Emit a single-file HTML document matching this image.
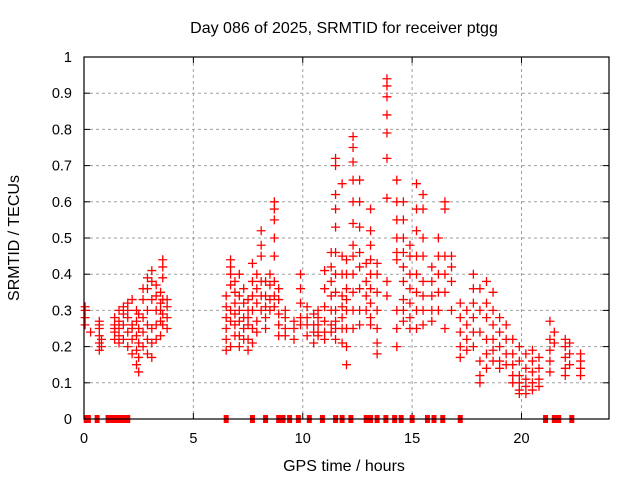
<!DOCTYPE html>
<html><head><meta charset="utf-8"><style>
body{margin:0;background:#fff}
svg{display:block;font-family:"Liberation Sans",sans-serif}
</style></head><body>
<svg id="chart" width="640" height="480">
<text x="344" y="33" text-anchor="middle" font-size="16">Day 086 of 2025, SRMTID for receiver ptgg</text>
<text x="344" y="471" text-anchor="middle" font-size="16">GPS time / hours</text>
<text transform="translate(19,238) rotate(-90)" text-anchor="middle" font-size="16">SRMTID / TECUs</text>
<g id="grid"></g>
<g id="ticks"></g>
<g id="marks"></g>
<rect x="84" y="57" width="525" height="362" fill="none" stroke="#000" stroke-width="1.2"/>
</svg>
<script>
const xTicks=[0,5,10,15,20];
const yTicks=[0,0.1,0.2,0.3,0.4,0.5,0.6,0.7,0.8,0.9,1];
const yTickLabels=["0","0.1","0.2","0.3","0.4","0.5","0.6","0.7","0.8","0.9","1"];
const colTimes=[0.05,0.3,0.7,0.8,1.4,1.6,1.8,2.0,2.2,2.4,2.5,2.7,2.9,3.1,3.3,3.5,3.6,3.8,
6.5,6.7,6.9,7.1,7.3,7.5,7.7,7.9,8.1,8.3,8.5,8.7,8.9,9.2,9.6,9.9,10.2,10.5,
10.7,11.0,11.3,11.5,11.8,12.0,12.3,12.6,12.9,13.1,13.4,13.85,14.3,14.6,14.9,15.2,15.5,15.9,16.2,16.5,16.8,17.2,17.5,17.8,18.1,18.4,18.7,19.0,19.3,19.6,19.9,20.2,20.5,20.8,21.3,21.5,22.0,22.2,22.7];
const colValues=[
[0.31,0.30,0.28,0.26],[0.24],[0.27,0.25,0.23,0.21,0.19,0.26],[0.22,0.20],
[0.22,0.24,0.26,0.28,0.25],[0.21,0.23,0.25,0.27,0.30],[0.22,0.26,0.29,0.31],[0.20,0.24,0.28,0.32,0.30],
[0.18,0.22,0.26,0.33,0.25],[0.15,0.19,0.23,0.27,0.30],[0.13,0.17,0.21,0.25,0.29],[0.20,0.24,0.28,0.33,0.36],
[0.18,0.22,0.26,0.30,0.36,0.39],[0.17,0.21,0.25,0.33,0.38,0.41],[0.22,0.26,0.30,0.34,0.37],[0.23,0.27,0.30,0.32,0.35],
[0.26,0.29,0.33,0.39,0.42,0.44],[0.25,0.28,0.31,0.33],
[0.34,0.31,0.28,0.25,0.22,0.19],[0.44,0.42,0.40,0.37,0.30,0.27,0.20],[0.38,0.35,0.32,0.29,0.26,0.23],
[0.40,0.34,0.30,0.27,0.23,0.20],[0.36,0.32,0.28,0.25,0.22],[0.33,0.30,0.28,0.26,0.22,0.19],
[0.43,0.38,0.34,0.30,0.25,0.21],[0.40,0.36,0.32,0.27,0.24],[0.52,0.48,0.45,0.38,0.34,0.30],
[0.38,0.34,0.31,0.28,0.25],[0.40,0.37,0.33,0.30],[0.60,0.58,0.55,0.50,0.45,0.38,0.34,0.31],
[0.36,0.33,0.29,0.26,0.23],[0.30,0.28,0.25,0.23],[0.27,0.25,0.22],[0.40,0.36,0.32,0.28,0.26],
[0.31,0.28,0.26,0.23],[0.29,0.26,0.24,0.21],
[0.30,0.28,0.26,0.24,0.23],[0.41,0.36,0.31,0.27,0.24,0.22],[0.46,0.42,0.38,0.34,0.30,0.26,0.24],
[0.72,0.70,0.62,0.58,0.53,0.46,0.40,0.35,0.30,0.27,0.25,0.22],[0.65,0.45,0.40,0.34,0.31,0.28,0.25,0.21],
[0.44,0.40,0.36,0.33,0.30,0.25,0.20,0.15],[0.78,0.75,0.71,0.66,0.60,0.54,0.48,0.45,0.40,0.35,0.30,0.25],
[0.66,0.60,0.53,0.46,0.42,0.36,0.30,0.26],[0.43,0.38,0.34,0.30],[0.58,0.52,0.48,0.44,0.40,0.36,0.32,0.28,0.26],
[0.43,0.40,0.35,0.30,0.25,0.21,0.18],[0.94,0.92,0.89,0.84,0.79,0.72,0.61,0.38,0.34],
[0.66,0.60,0.55,0.50,0.46,0.44,0.30,0.25,0.20],[0.60,0.55,0.50,0.46,0.42,0.38,0.33,0.30,0.27],
[0.48,0.45,0.40,0.36,0.32,0.28,0.25],[0.65,0.58,0.52,0.45,0.40,0.35,0.30,0.25],[0.62,0.58,0.50,0.45,0.38,0.34,0.30,0.26],
[0.42,0.38,0.34,0.30,0.27],[0.50,0.45,0.40,0.35,0.30],[0.60,0.58,0.45,0.40,0.35,0.25],[0.45,0.42,0.38,0.30],
[0.32,0.28,0.24,0.20,0.17],[0.30,0.26,0.22,0.19],[0.40,0.36,0.32,0.28,0.24,0.20],[0.36,0.30,0.24,0.16,0.12,0.10],
[0.38,0.32,0.28,0.22,0.18,0.14],[0.35,0.30,0.26,0.22,0.19,0.16],[0.28,0.24,0.20,0.16,0.14],[0.26,0.22,0.18,0.15],
[0.22,0.18,0.15,0.12,0.10],[0.20,0.16,0.12,0.10,0.08,0.07],[0.18,0.14,0.11,0.09,0.07],[0.19,0.16,0.13,0.10,0.08],
[0.17,0.14,0.11,0.09],[0.27,0.22,0.19,0.16,0.13],[0.24,0.21],[0.22,0.20,0.17,0.14,0.12],[0.21,0.18,0.15],[0.18,0.16,0.14,0.12]];
const zeroTimes=[0.1,0.2,0.6,1.1,1.3,1.5,1.7,1.9,2.0,6.5,7.7,8.3,8.9,9.1,9.4,9.8,10.3,10.9,11.5,11.8,12.2,12.9,13.1,13.4,13.8,14.2,14.5,15.0,15.7,16.0,16.4,17.2,21.1,21.5,21.7,22.3];
const svg=document.getElementById('chart'),NS='http://www.w3.org/2000/svg';
const X=t=>84+t*525/24, Y=v=>419-v*362;
function mk(tag,attrs,parent){const e=document.createElementNS(NS,tag);for(const k in attrs)e.setAttribute(k,attrs[k]);parent.appendChild(e);return e;}
const grid=document.getElementById('grid'),ticks=document.getElementById('ticks'),marks=document.getElementById('marks');
yTicks.forEach((v,i)=>{
 if(v>0&&v<1){const g=mk('line',{x1:84,x2:609,y1:Y(v),y2:Y(v),stroke:'#a0a0a0','stroke-dasharray':'3,3'},grid);
 
 }
 mk('line',{x1:84,x2:90,y1:Y(v),y2:Y(v),stroke:'#000'},ticks);
 mk('line',{x1:603,x2:609,y1:Y(v),y2:Y(v),stroke:'#000'},ticks);
 const l=mk('text',{x:72,y:Y(v)+5,'text-anchor':'end','font-size':14.5},ticks);l.textContent=yTickLabels[i];
 
 
});
xTicks.forEach(t=>{
 if(t>0){const g=mk('line',{x1:X(t),x2:X(t),y1:57,y2:419,stroke:'#a0a0a0','stroke-dasharray':'3,3'},grid);
 
 }
 mk('line',{x1:X(t),x2:X(t),y1:413,y2:419,stroke:'#000'},ticks);
 mk('line',{x1:X(t),x2:X(t),y1:57,y2:63,stroke:'#000'},ticks);
 const l=mk('text',{x:X(t),y:443,'text-anchor':'middle','font-size':14.5},ticks);l.textContent=String(t);
 
 
});
function plus(t,v){
 const x=X(t),y=Y(v);
 const p=mk('path',{d:`M${x-4.5},${y}h9M${x},${y-4.5}v9`,stroke:'#ff0000','stroke-width':1.3,fill:'none'},marks);
 
 
}
colTimes.forEach((t,i)=>colValues[i].forEach(v=>plus(t,v)));
zeroTimes.forEach(t=>{
 const r=mk('rect',{x:X(t)-2.5,y:415,width:5,height:8,fill:'#ff0000'},marks);
 
 
});
</script>
</body></html>
